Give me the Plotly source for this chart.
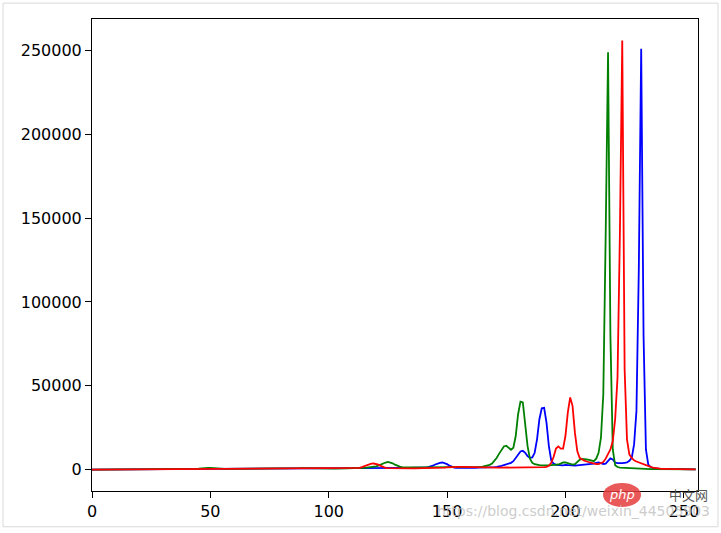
import plotly.graph_objects as go

# pixel-intensity bins 0..255
bins = list(range(256))

blue = [
    0, 0, 0, 0, 0, 0, 0, 0, 0, 0,
    0, 0, 0, 0, 0, 0, 0, 0, 0, 0,
    0, 0, 0, 0, 0, 0, 10, 10, 20, 20,
    30, 40, 50, 60, 70, 90, 110, 130, 150, 180,
    200, 230, 260, 290, 320, 350, 380, 400, 420, 440,
    450, 460, 470, 470, 480, 480, 480, 490, 490, 490,
    500, 500, 500, 500, 500, 510, 510, 510, 510, 520,
    520, 520, 520, 530, 530, 530, 530, 540, 540, 540,
    540, 550, 550, 550, 560, 560, 560, 570, 570, 570,
    580, 580, 580, 590, 590, 590, 600, 600, 610, 610,
    620, 620, 630, 640, 650, 660, 680, 700, 720, 750,
    780, 820, 860, 900, 950, 1000, 1050, 1100, 1150, 1200,
    1200, 1200, 1150, 1100, 1050, 1000, 1000, 1000, 1000, 1000,
    1000, 1000, 1000, 1000, 1000, 1000, 1000, 1000, 1050, 1100,
    1200, 1300, 1500, 1800, 2300, 3000, 3600, 4000, 4200, 3900,
    3200, 2300, 1600, 1200, 1000, 950, 950, 950, 950, 1000,
    1000, 1000, 1050, 1100, 1100, 1150, 1200, 1250, 1300, 1400,
    1500, 1600, 1800, 2200, 2700, 3200, 3600, 4000, 5000, 6800,
    9000, 10800, 11200, 10000, 8000, 7000, 7200, 10000, 18000, 30000,
    36500, 36800, 28000, 14000, 5500, 3500, 2800, 2600, 2500, 2500,
    2800, 2600, 2300, 2200, 2300, 2500, 2600, 2700, 2800, 3000,
    3200, 3200, 3500, 4000, 4200, 3800, 3300, 3500, 5000, 6700,
    6000, 4200, 3800, 3700, 3800, 4000, 4200, 5200, 7000, 15000,
    35000, 120000, 251000, 80000, 12000, 3000, 1500, 900, 600, 500,
    450, 400, 380, 350, 320, 300, 280, 260, 240, 220,
    200, 180, 160, 140, 120, 100,
]

green = [
    0, 0, 0, 0, 0, 0, 0, 0, 0, 0,
    0, 0, 0, 0, 0, 0, 0, 0, 0, 0,
    0, 0, 0, 0, 0, 0, 10, 10, 20, 30,
    40, 50, 60, 80, 100, 120, 150, 180, 210, 240,
    270, 300, 330, 360, 400, 500, 700, 900, 1000, 1050,
    1000, 850, 650, 500, 450, 430, 420, 420, 420, 420,
    420, 420, 420, 420, 420, 420, 420, 420, 420, 420,
    430, 430, 430, 430, 440, 440, 440, 450, 450, 460,
    460, 470, 470, 480, 500, 520, 560, 650, 800, 900,
    850, 700, 580, 520, 500, 500, 500, 510, 510, 520,
    520, 530, 540, 550, 560, 580, 600, 620, 650, 680,
    720, 760, 800, 850, 900, 1000, 1100, 1250, 1400, 1600,
    1900, 2300, 3000, 3700, 4200, 4500, 4300, 3700, 2900, 2100,
    1700, 1500, 1400, 1350, 1300, 1300, 1300, 1300, 1300, 1300,
    1300, 1300, 1300, 1250, 1250, 1200, 1200, 1200, 1200, 1200,
    1200, 1200, 1200, 1200, 1200, 1200, 1200, 1200, 1200, 1200,
    1250, 1300, 1400, 1500, 1650, 1800, 2000, 2300, 2800, 3600,
    5000, 7000, 9500, 12000, 13800, 14200, 13000, 11800, 13000, 20000,
    33000, 40500, 40000, 28000, 14000, 6500, 4000, 3200, 2800, 2600,
    2500, 2400, 2400, 2500, 2600, 2600, 2800, 3000, 3500, 4200,
    4300, 3700, 3100, 2900, 3200, 4500, 5800, 6300, 6300, 6000,
    5800, 5200, 5000, 6500, 10000, 19000, 45000, 140000, 249000, 80000,
    12000, 2500, 1500, 1200, 1100, 1000, 900, 800, 700, 600,
    500, 450, 400, 380, 350, 330, 310, 290, 270, 250,
    240, 230, 220, 210, 200, 190, 180, 170, 160, 150,
    140, 130, 120, 110, 100, 90,
]

red = [
    0, 0, 0, 0, 0, 0, 0, 0, 0, 0,
    0, 0, 0, 0, 0, 0, 0, 0, 0, 0,
    0, 0, 0, 0, 0, 0, 10, 10, 20, 20,
    30, 40, 50, 60, 80, 100, 120, 140, 160, 180,
    200, 220, 240, 260, 280, 300, 320, 340, 360, 380,
    400, 410, 420, 430, 440, 450, 460, 470, 480, 480,
    490, 490, 500, 500, 500, 510, 510, 510, 520, 520,
    520, 530, 530, 530, 540, 540, 540, 550, 550, 550,
    560, 560, 560, 570, 570, 570, 580, 580, 590, 590,
    600, 600, 600, 610, 610, 620, 620, 630, 630, 640,
    640, 650, 660, 670, 680, 690, 700, 720, 740, 760,
    780, 800, 850, 1000, 1400, 2000, 2700, 3200, 3500, 3600,
    3400, 2900, 2200, 1500, 1000, 800, 750, 720, 700, 700,
    700, 700, 700, 700, 700, 700, 700, 700, 720, 740,
    760, 780, 800, 820, 850, 880, 900, 950, 1000, 1100,
    1250, 1400, 1500, 1600, 1600, 1650, 1650, 1650, 1650, 1650,
    1650, 1600, 1600, 1550, 1500, 1450, 1400, 1350, 1300, 1250,
    1200, 1200, 1150, 1150, 1100, 1100, 1100, 1050, 1050, 1050,
    1000, 1000, 1000, 1000, 1000, 1000, 1000, 1050, 1100, 1150,
    1250, 1400, 1600, 2200, 4000, 7500, 12500, 13800, 12500, 12500,
    20000, 34000, 43000, 38000, 22000, 11000, 7000, 6000, 5300, 4800,
    4300, 3800, 3400, 3200, 3300, 3800, 4500, 6500, 9000, 12000,
    17000, 30000, 55000, 140000, 256000, 60000, 18000, 9000, 7000, 5500,
    4800, 4200, 3600, 3000, 2500, 2000, 1600, 1200, 900, 700,
    500, 450, 400, 380, 350, 320, 300, 280, 260, 240,
    220, 200, 180, 160, 140, 120,
]

series = [("b", blue, "#0000ff"), ("g", green, "#008000"), ("r", red, "#ff0000")]

x_ticks = [0, 50, 100, 150, 200, 250]
y_ticks = [0, 50000, 100000, 150000, 200000, 250000]

W, H = 721, 533
L, R, T, B = 92, 698, 19, 494  # plot area in pixels

fig = go.Figure()
for name, vals, col in series:
    fig.add_trace(go.Scatter(x=bins, y=vals, mode="lines", name=name,
                             line=dict(color=col, width=1.8)))

ymax = max(max(blue), max(green), max(red))
yr = [-0.05 * ymax, 1.05 * ymax]

axis_common = dict(showgrid=False, zeroline=False, showline=True, linecolor="#000000",
                   linewidth=1, mirror=True, ticks="outside", ticklen=6, tickwidth=1,
                   tickcolor="#000000", tickfont=dict(family="DejaVu Sans", size=16, color="#000000"))

fig.update_layout(
    width=W, height=H,
    margin=dict(l=L, r=W - R, t=T, b=H - B),
    paper_bgcolor="#ffffff", plot_bgcolor="#ffffff",
    showlegend=False,
    xaxis=dict(range=[0, 256], tickvals=x_ticks, ticktext=[str(v) for v in x_ticks], **axis_common),
    yaxis=dict(range=yr, tickvals=y_ticks, ticktext=[str(v) for v in y_ticks], **axis_common),
)

def px(xp):
    return (xp - L) / (R - L)

def py(yp):
    return (B - yp) / (B - T)

# outer light frame of the screenshot
fig.add_shape(type="rect", xref="paper", yref="paper", x0=px(3), x1=px(718), y0=py(530), y1=py(3),
              line=dict(color="#d9d9d9", width=1), fillcolor="rgba(0,0,0,0)", layer="below")

# watermark
fig.add_shape(type="circle", xref="paper", yref="paper", x0=px(603), x1=px(641), y0=py(510), y1=py(486),
              line=dict(width=0), fillcolor="rgba(230,60,60,0.85)")
fig.add_annotation(xref="paper", yref="paper", x=px(622), y=py(498), xanchor="center", yanchor="middle",
                   text="<i>php</i>", showarrow=False,
                   font=dict(family="DejaVu Sans", size=13, color="#ffffff"))
fig.add_annotation(xref="paper", yref="paper", x=px(667), y=py(498), xanchor="left", yanchor="middle",
                   text="中文网", showarrow=False,
                   font=dict(family="Noto Sans CJK SC", size=13, color="#555555"))
fig.add_annotation(xref="paper", yref="paper", x=px(712), y=py(514), xanchor="right", yanchor="middle",
                   text="https://blog.csdn.net/weixin_44505903", showarrow=False,
                   font=dict(family="DejaVu Sans", size=14, color="rgba(190,190,190,0.8)"))

fig.write_html("out.html", config={"displayModeBar": False},
               post_script="document.body.style.margin='0';")
